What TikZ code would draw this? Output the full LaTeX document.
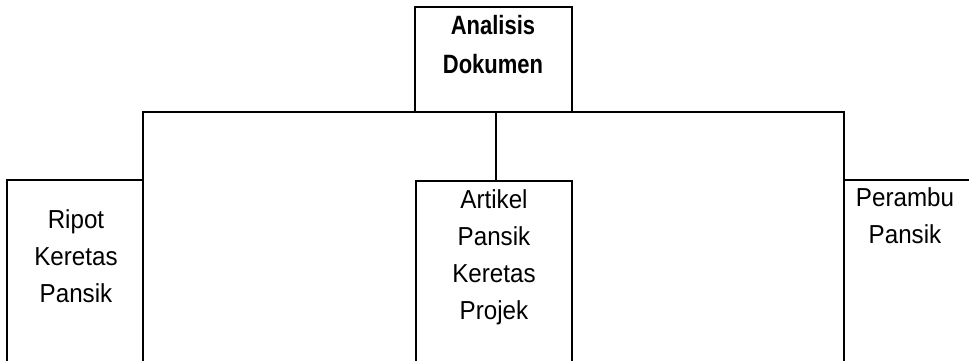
\documentclass[tikz,border=0pt]{standalone}
\usepackage{fontspec}
\setmainfont{Liberation Sans}[FakeStretch=0.93]
\newfontfamily\headfont{Liberation Sans}[FakeStretch=0.83]
\begin{document}
\begin{tikzpicture}[x=1pt,y=-1pt,
  box/.style={draw=black, line width=2.6pt, rectangle, anchor=north west, inner sep=0pt, outer sep=0pt},
  conn/.style={draw=black, line width=2.6pt},
  lbl/.style={align=center, inner sep=0pt, font=\fontsize{26}{37}\selectfont},
  lblbold/.style={align=center, inner sep=0pt, font=\headfont\fontsize{26.5}{39}\selectfont\bfseries}]
\useasboundingbox[fill=white] (0,0) rectangle (969,360);
\begin{scope}
\clip (0,0) rectangle (969,360);
\node[box, minimum width=157pt, minimum height=105pt] (top) at (415,7) {};
\node[box, minimum width=136pt, minimum height=230pt] (left) at (7,180) {};
\node[box, minimum width=156pt, minimum height=230pt] (mid) at (416,181) {};
\node[box, minimum width=160pt, minimum height=230pt] (right) at (844,180) {};
\draw[conn] (left.north east) -- (left.north east |- top.south) -- (right.north west |- top.south) -- (right.north west);
\draw[conn] ([xshift=2pt]mid.north) -- ([xshift=2pt]mid.north |- top.south);
\end{scope}
\node[lblbold] (ttop) at (493,45) {Analisis\\Dokumen};
\node[lbl] (tleft) at (76,256) {Ripot\\Keretas\\Pansik};
\node[lbl] (tmid) at (494,257) {Artikel\\Pansik\\Keretas\\Projek};
\node[lbl] (tright) at (905,216) {Perambu\\Pansik};
\end{tikzpicture}
\end{document}
